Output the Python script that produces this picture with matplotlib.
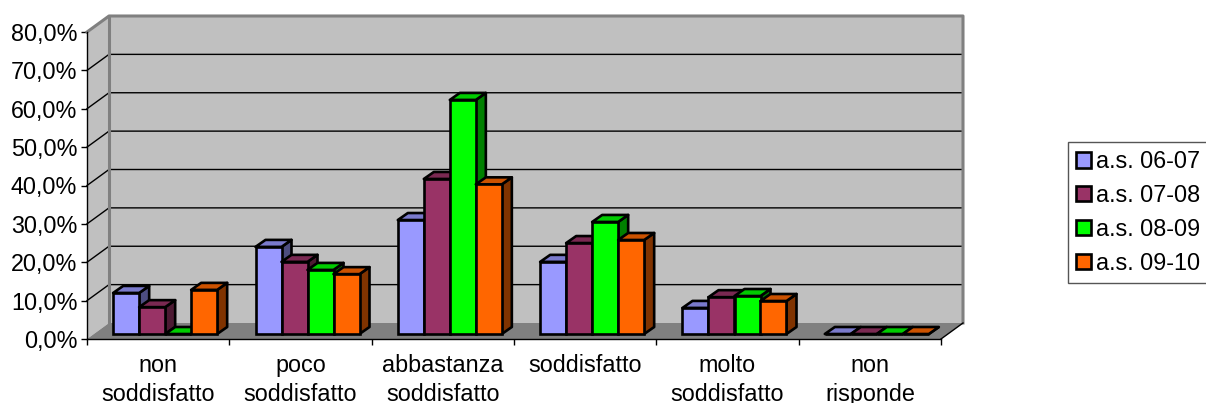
import matplotlib
matplotlib.use('Agg')
from matplotlib import pyplot as plt
from matplotlib.patches import Patch, Polygon

plt.rcParams['font.family'] = ['Liberation Sans', 'DejaVu Sans']

categories = ['non\nsoddisfatto', 'poco\nsoddisfatto', 'abbastanza\nsoddisfatto',
              'soddisfatto', 'molto\nsoddisfatto', 'non\nrisponde']
s0607 = [10.7, 22.7, 29.7, 18.8, 6.8, 0]
s0708 = [7.0, 18.8, 40.4, 23.7, 9.6, 0]
s0809 = [0, 16.7, 61.0, 29.2, 9.9, 0]
s0910 = [11.5, 15.6, 39.0, 24.5, 8.6, 0]
series = [s0607, s0708, s0809, s0910]
names = ['a.s. 06-07', 'a.s. 07-08', 'a.s. 08-09', 'a.s. 09-10']
front = ['#9999ff', '#993366', '#00ff00', '#ff6600']
top = ['#7a7acc', '#7a2952', '#00cc00', '#cc5200']
side = ['#4d4d80', '#4d1a33', '#008000', '#803300']
yticks = [0, 10, 20, 30, 40, 50, 60, 70, 80]
ylabels = ['0,0%', '10,0%', '20,0%', '30,0%', '40,0%', '50,0%', '60,0%', '70,0%', '80,0%']

W, H = 1206, 403
fig = plt.figure(figsize=(W / 100, H / 100), dpi=100)
L, R, T, B = 87, 941, 32, 339
ax = fig.add_axes([L / W, 1 - B / H, (R - L) / W, (B - T) / H], facecolor='none')
ax.set_xlim(0, 6)
ax.set_ylim(0, 80)

# pixels -> data units
px = 6 / (R - L)
py = 80 / (B - T)
wall_dx, wall_dy = 22 * px, 16 * py
bar_dx, bar_dy = 10 * px, 7 * py
shift_x, lift = 7 * px, 5 * py
width = 26 * px
n = len(series)


def poly(points, **kw):
    ax.add_patch(Polygon(points, closed=True, clip_on=False, **kw))


# walls and floor
poly([(0, 0), (wall_dx, wall_dy), (wall_dx, 80 + wall_dy), (0, 80)], fc='#c0c0c0', ec='none', zorder=1)
poly([(wall_dx, wall_dy), (6 + wall_dx, wall_dy), (6 + wall_dx, 80 + wall_dy), (wall_dx, 80 + wall_dy)],
     fc='#c0c0c0', ec='none', zorder=1)
poly([(0, 0), (6, 0), (6 + wall_dx, wall_dy), (wall_dx, wall_dy)], fc='#808080', ec='none', zorder=1.5)

for v in yticks[1:-1]:
    ax.plot([0, wall_dx, 6 + wall_dx], [v, v + wall_dy, v + wall_dy], color='black', lw=1.0,
            clip_on=False, zorder=2)
ax.plot([0, wall_dx, 6 + wall_dx, 6 + wall_dx], [80, 80 + wall_dy, 80 + wall_dy, wall_dy],
        color='#808080', lw=2.2, clip_on=False, zorder=2.5)
ax.plot([wall_dx, wall_dx], [wall_dy, 80 + wall_dy], color='#808080', lw=2.2, clip_on=False, zorder=2.5)
ax.plot([6, 6 + wall_dx], [0, wall_dy], color='black', lw=1.0, clip_on=False, zorder=2.5)

# bars, left to right so that each one overlaps the side of the previous
for g in range(len(categories)):
    x0 = g + 0.5 - n * width / 2 + shift_x
    for i in range(n):
        v = series[i][g]
        xl = x0 + i * width
        xr = xl + width
        zo = 3 + g + i * 0.1
        y0, y1 = lift, lift + v
        poly([(xr, y0), (xr + bar_dx, y0 + bar_dy), (xr + bar_dx, y1 + bar_dy), (xr, y1)],
             fc=side[i], ec='black', lw=1.9, joinstyle='round', zorder=zo)
        poly([(xl, y1), (xr, y1), (xr + bar_dx, y1 + bar_dy), (xl + bar_dx, y1 + bar_dy)],
             fc=top[i], ec='black', lw=1.9, joinstyle='round', zorder=zo)
        ax.bar(xl, v, width=width, bottom=lift, align='edge', color=front[i], edgecolor='black',
               linewidth=1.9, clip_on=False, zorder=zo + 0.01)

for s in ['top', 'right']:
    ax.spines[s].set_visible(False)
for s in ['left', 'bottom']:
    ax.spines[s].set_linewidth(1.0)
    ax.spines[s].set_zorder(20)

ax.set_yticks(yticks)
ax.set_yticklabels(ylabels, fontsize=16.8)
ax.tick_params(axis='y', length=4, width=1.0, pad=3)
ax.set_xticks(range(7))
ax.set_xticklabels([])
ax.set_xticks([g + 0.5 for g in range(len(categories))], minor=True)
ax.set_xticklabels(categories, minor=True, fontsize=16.8, linespacing=1.3, va='top')
ax.tick_params(axis='x', which='major', length=4, width=1.0)
ax.tick_params(axis='x', which='minor', length=0, pad=11)

handles = [Patch(facecolor=c, edgecolor='black', linewidth=1.9) for c in front]
leg = fig.legend(handles, names, loc='upper left', bbox_to_anchor=(1068 / W, 1 - 142 / H),
                 borderaxespad=0, fontsize=16.8, frameon=True, fancybox=False, framealpha=1,
                 edgecolor='#555555', handlelength=0.62, handleheight=0.62, handletextpad=0.22,
                 labelspacing=0.47, borderpad=0.35)
leg.get_frame().set_linewidth(1.0)

fig.savefig('out.png', dpi=100, facecolor='white')
